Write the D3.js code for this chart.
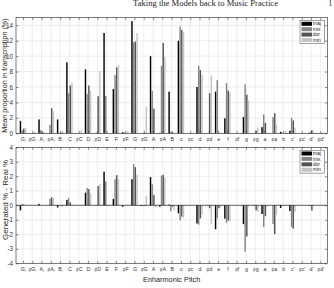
<!DOCTYPE html>
<html><head><meta charset="utf-8">
<script src="https://cdn.jsdelivr.net/npm/d3@7"></script>
<style>html,body{margin:0;padding:0;background:#fff;}svg{display:block;}</style>
</head><body>
<svg id="c" width="334" height="288"></svg>
<script>
const categories = ["G,","♯G,","A,","♯A,","B,","C","♯C","D","♯D","E","F","♯F","G","♯G","A","♯A","B","c","♯c","d","♯d","e","f","♯f","g","♯g","a","♯a","b","c'","♯c'","d'","♯d'"];
const seriesNames = ["maj","mix","dor","min"];
const seriesColors = ["#000000","#858585","#545454","#c4c4c4"];

// Top panel: mean proportion in transcription (%)
const propMaj = [1.6,0,1.8,0,1.8,9.2,0,8.3,0,13.0,5.75,0.15,14.55,0,10.0,0.05,5.4,12.0,0,6.0,0,5.4,1.95,0,2.1,0,0.8,0,0.2,0.35,0,0.05,0];
const propMix = [0.4,0,0.4,1.1,0.05,5.2,0,5.1,0.1,4.85,7.55,0.1,11.8,0.05,5.5,8.75,0.2,13.85,0,8.75,0.05,6.9,6.5,0,6.35,0.05,2.45,2.1,0.1,2.0,0,0.2,0];
const propDor = [0.6,0.05,0.2,3.25,0.1,6.2,0,6.2,4.8,0,8.55,0.05,11.9,0.1,3.2,11.7,0.1,13.4,0,8.2,5.2,0.05,5.55,0,5.0,0.35,1.35,2.6,0,1.65,0,0.4,0];
const propMin = [0.7,0.2,0.15,2.85,0.3,6.5,0.4,5.5,8.1,0,8.85,0.3,13.0,3.45,0,9.9,0.05,13.1,0,7.55,7.5,0.05,5.3,0,4.25,0.75,0.05,1.15,0.3,0.75,0,0.15,0.1];

// Bottom panel: generated % - real %
const diffMaj = [-0.35,0,0.1,0,-0.15,0.37,0,0.87,0,2.32,0.44,-0.1,1.8,-0.05,1.95,-0.1,0.05,-0.55,0,-1.25,0,-1.65,-0.92,0,-1.3,0,-0.6,0,-0.18,-0.4,0,0,0];
const diffMix = [0.08,0,0,0.45,0,0.5,0,1.2,-0.05,1.65,1.8,0,2.85,-0.05,1.45,2.05,-0.4,-1.05,0,-1.33,-0.05,-0.9,-1.2,0,-3.2,-0.05,-1.5,-1.3,-0.05,-1.5,0,-0.05,0];
const diffDor = [0.05,0,0,0.55,-0.05,0.2,0,1.12,1.33,-0.03,2.08,0,2.63,-0.05,0.72,2.1,-0.1,-0.78,0,-0.9,-0.2,-0.2,-1.05,0,-2.15,-0.35,-0.75,-2.0,0,-1.6,0,-0.37,0];
const diffMin = [0,0,0,0.5,-0.12,0.05,0,0.82,1.47,-0.05,1.8,-0.05,2.1,0.65,-0.15,1.9,-0.35,-0.85,0,-0.65,-1.3,-0.1,-1.1,0,-0.1,-0.45,-0.1,-0.65,-0.05,-0.45,0,-0.05,0];

const topTicks = [0,2,4,6,8,10,12,14];
const bottomTicks = [-4,-3,-2,-1,0,1,2,3,4];

const svg = d3.select("#c");
const FONT = "'Liberation Sans', Arial, Helvetica, sans-serif";
const AX = "#262626";

// header (page running title)
svg.append("text").attr("x",133).attr("y",6.2).attr("font-family","'Liberation Serif', 'DejaVu Serif', serif")
  .attr("font-size",7.5).attr("textLength",145).attr("lengthAdjust","spacingAndGlyphs").attr("fill","#222")
  .text("Taking the Models back to Music Practice");
svg.append("text").attr("x",328.5).attr("y",6.2).attr("font-family","'Liberation Serif', serif").attr("font-size",7.5).attr("fill","#222").text("1");

const X0 = 16, X1 = 327.3;
const x = d3.scaleLinear().domain([0.25, categories.length + 0.75]).range([X0, X1]);
const step = x(2) - x(1);
const groupW = 4/5.5;
const sub = d3.scaleBand().domain(seriesNames).range([-groupW/2, groupW/2]);
const barW = sub.bandwidth()*0.85;

function panel(top, bottom, domain, ticks, data, ylabel, ylabelSize, ylabelY, xlabel) {
  const y = d3.scaleLinear().domain(domain).range([bottom, top]);
  const g = svg.append("g");
  // grid
  g.selectAll(".gx").data(categories).enter().append("line")
    .attr("x1",(d,i)=>x(i+1)).attr("x2",(d,i)=>x(i+1)).attr("y1",top).attr("y2",bottom)
    .attr("stroke","#e3e3e3").attr("stroke-width",0.6);
  g.selectAll(".gy").data(ticks).enter().append("line")
    .attr("x1",X0).attr("x2",X1).attr("y1",d=>y(d)).attr("y2",d=>y(d))
    .attr("stroke","#e3e3e3").attr("stroke-width",0.6);
  // bars
  seriesNames.forEach((s,j)=>{
    g.selectAll(".b"+s).data(data[j]).enter().append("rect")
      .attr("x",(d,i)=>x(i+1 + sub(s) + sub.bandwidth()/2) - barW*step/2)
      .attr("width",barW*step)
      .attr("y",d=>y(Math.max(0,d)))
      .attr("height",d=>Math.abs(y(d)-y(0)))
      .attr("fill",seriesColors[j]);
  });
  if (domain[0] < 0) g.append("line").attr("x1",X0).attr("x2",X1).attr("y1",y(0)).attr("y2",y(0)).attr("stroke","#000").attr("stroke-width",0.6);
  const tl = 2.5;
  const axB = d3.axisBottom(x).tickValues(d3.range(1,categories.length+1)).tickFormat(i=>categories[i-1]).tickSizeInner(-tl).tickSizeOuter(0).tickPadding(4);
  const gb = g.append("g").attr("transform",`translate(0,${bottom})`).call(axB);
  gb.selectAll("text").attr("font-family",FONT).attr("font-size",5.3).attr("fill","#333");
  const axT = d3.axisTop(x).tickValues(d3.range(1,categories.length+1)).tickFormat("").tickSizeInner(-tl).tickSizeOuter(0);
  g.append("g").attr("transform",`translate(0,${top})`).call(axT);
  const axL = d3.axisLeft(y).tickValues(ticks).tickFormat(d=>d<0?"-"+Math.abs(d):d).tickSizeInner(-tl).tickSizeOuter(0).tickPadding(3);
  const gl = g.append("g").attr("transform",`translate(${X0},0)`).call(axL);
  gl.selectAll("text").attr("font-family",FONT).attr("font-size",6.3).attr("fill","#333");
  const axR = d3.axisRight(y).tickValues(ticks).tickFormat("").tickSizeInner(-tl).tickSizeOuter(0);
  g.append("g").attr("transform",`translate(${X1},0)`).call(axR);
  g.selectAll(".domain").remove();
  g.selectAll(".tick line").attr("stroke",AX).attr("stroke-width",0.5);
  g.append("rect").attr("x",X0).attr("y",top).attr("width",X1-X0).attr("height",bottom-top)
    .attr("fill","none").attr("stroke",AX).attr("stroke-width",0.6);
  g.append("text").attr("transform",`translate(5.5,${ylabelY}) rotate(-90)`)
    .attr("text-anchor","middle").attr("dominant-baseline","middle")
    .attr("font-family",FONT).attr("font-size",ylabelSize).attr("fill","#262626").text(ylabel);
  if (xlabel) g.append("text").attr("x",(X0+X1)/2).attr("y",bottom+18.5).attr("text-anchor","middle")
    .attr("font-family",FONT).attr("font-size",7.3).attr("fill","#262626").text(xlabel);
  // legend
  const lx = 300, ly = top + 3, lw = 24.3, rowH = 5.4;
  const lg = g.append("g");
  lg.append("rect").attr("x",lx).attr("y",ly).attr("width",lw).attr("height",rowH*4+1.2)
    .attr("fill","#fff").attr("stroke","#444").attr("stroke-width",0.5);
  seriesNames.forEach((s,j)=>{
    lg.append("rect").attr("x",lx+1.5).attr("y",ly+1.2+j*rowH).attr("width",10.5).attr("height",4)
      .attr("fill",seriesColors[j]);
    lg.append("text").attr("x",lx+12.8).attr("y",ly+1.2+j*rowH+3.6)
      .attr("font-family",FONT).attr("font-size",5).attr("fill","#222").text(s);
  });
}

panel(17.6, 133.3, [0,15], topTicks, [propMaj,propMix,propDor,propMin], "Mean proportion in transcription (%)", 7.2, 75.5, null);
panel(147.3, 263.3, [-4,4], bottomTicks, [diffMaj,diffMix,diffDor,diffMin], "Generated % - Real %", 8, 200, "Enharmonic Pitch");
</script>
</body></html>
